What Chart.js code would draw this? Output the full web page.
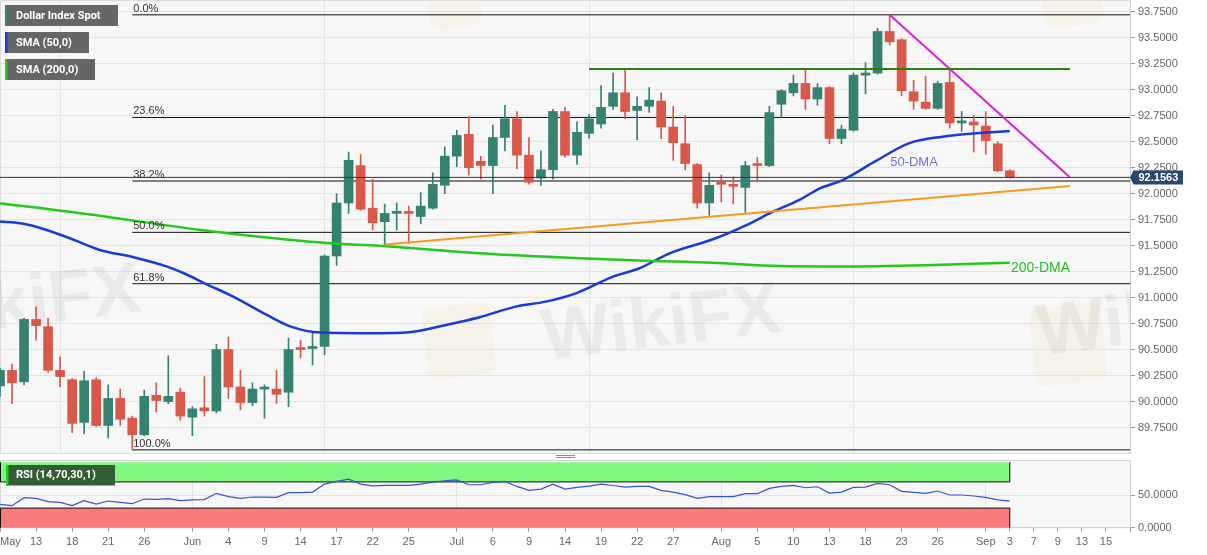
<!DOCTYPE html>
<html>
<head>
<meta charset="utf-8">
<title>Dollar Index Spot</title>
<style>
  html, body { margin:0; padding:0; background:#ffffff; overflow:hidden; }
  body { width:1207px; height:555px; position:relative; }
  #mainChart { position:absolute; left:0; top:0; }
  #rsiChart { position:absolute; left:0; top:460px; }
</style>
<script src="https://cdn.jsdelivr.net/npm/chart.js@4.4.1/dist/chart.umd.min.js"></script>
</head>
<body>
<canvas id="mainChart" width="1207" height="460"></canvas>
<canvas id="rsiChart" width="1207" height="95"></canvas>
<script>
// ---------- DATA ----------
const dates = [
 '2021-05-10','2021-05-11','2021-05-12','2021-05-13','2021-05-14','2021-05-17','2021-05-18','2021-05-19','2021-05-20','2021-05-21',
 '2021-05-24','2021-05-25','2021-05-26','2021-05-27','2021-05-28','2021-05-31','2021-06-01','2021-06-02','2021-06-03','2021-06-04',
 '2021-06-07','2021-06-08','2021-06-09','2021-06-10','2021-06-11','2021-06-14','2021-06-15','2021-06-16','2021-06-17','2021-06-18',
 '2021-06-21','2021-06-22','2021-06-23','2021-06-24','2021-06-25','2021-06-28','2021-06-29','2021-06-30','2021-07-01','2021-07-02',
 '2021-07-05','2021-07-06','2021-07-07','2021-07-08','2021-07-09','2021-07-12','2021-07-13','2021-07-14','2021-07-15','2021-07-16',
 '2021-07-19','2021-07-20','2021-07-21','2021-07-22','2021-07-23','2021-07-26','2021-07-27','2021-07-28','2021-07-29','2021-07-30',
 '2021-08-02','2021-08-03','2021-08-04','2021-08-05','2021-08-06','2021-08-09','2021-08-10','2021-08-11','2021-08-12','2021-08-13',
 '2021-08-16','2021-08-17','2021-08-18','2021-08-19','2021-08-20','2021-08-23','2021-08-24','2021-08-25','2021-08-26','2021-08-27',
 '2021-08-30','2021-08-31','2021-09-01','2021-09-02','2021-09-03'];

const openP = [
 90.15,90.30,90.19,90.79,90.72,90.30,90.21,89.80,90.21,89.77,
 90.03,89.84,89.68,90.06,90.00,90.09,89.85,89.94,89.91,90.50,
 90.14,89.99,90.12,90.12,90.09,90.51,90.51,90.53,91.40,91.91,
 92.27,91.86,91.73,91.81,91.82,91.78,91.86,92.08,92.36,92.57,
 92.31,92.27,92.54,92.72,92.37,92.15,92.23,92.79,92.37,92.58,
 92.67,92.84,92.97,92.80,92.84,92.89,92.64,92.48,92.28,91.91,
 92.11,92.08,92.06,92.28,92.27,92.86,92.97,93.06,92.91,93.02,
 92.53,92.61,93.14,93.16,93.56,93.48,92.98,92.88,92.82,93.07,
 92.68,92.69,92.65,92.48,92.22];
const highP = [
 90.32,90.36,90.80,90.91,90.80,90.43,90.22,90.29,90.23,90.16,
 90.12,89.86,90.11,90.18,90.44,90.13,89.95,90.24,90.55,90.62,
 90.30,90.18,90.16,90.30,90.61,90.59,90.67,91.41,92.00,92.40,
 92.38,92.14,91.90,91.91,91.88,92.01,92.20,92.45,92.61,92.74,
 92.36,92.66,92.85,92.79,92.54,92.41,92.81,92.83,92.69,92.76,
 93.04,93.16,93.19,92.93,93.02,92.97,92.84,92.75,92.29,92.20,
 92.18,92.16,92.31,92.35,92.84,93.00,93.14,93.19,93.06,93.03,
 92.66,93.16,93.26,93.59,93.72,93.49,93.09,93.13,93.08,93.19,
 92.79,92.75,92.79,92.50,92.23];
const lowP = [
 90.05,89.98,90.16,90.59,90.28,90.14,89.70,89.69,89.76,89.65,
 89.77,89.535,89.67,89.90,89.98,89.82,89.67,89.86,89.89,90.03,
 89.92,89.96,89.84,89.98,89.95,90.42,90.35,90.45,91.31,91.81,
 91.84,91.65,91.51,91.65,91.52,91.71,91.85,92.00,92.26,92.18,
 92.14,92.00,92.41,92.24,92.09,92.08,92.14,92.35,92.28,92.53,
 92.63,92.81,92.72,92.52,92.78,92.53,92.32,92.23,91.86,91.79,
 91.92,91.90,91.82,92.12,92.26,92.73,92.94,92.81,92.85,92.48,
 92.48,92.60,92.96,93.15,93.43,92.94,92.81,92.81,92.81,92.63,
 92.60,92.40,92.38,92.21,92.15];
const closeP = [
 90.30,90.18,90.79,90.73,90.30,90.24,89.79,90.20,89.77,90.03,
 89.83,89.68,90.05,90.01,90.05,89.86,89.93,89.91,90.50,90.14,
 89.99,90.12,90.13,90.07,90.50,90.50,90.52,91.40,91.91,92.32,
 91.85,91.72,91.81,91.82,91.81,91.88,92.09,92.36,92.56,92.25,
 92.27,92.54,92.72,92.37,92.11,92.23,92.79,92.37,92.59,92.72,
 92.83,92.97,92.79,92.84,92.90,92.64,92.49,92.29,91.91,92.08,
 92.09,92.07,92.27,92.27,92.78,92.99,93.06,92.91,93.02,92.53,
 92.62,93.14,93.16,93.56,93.46,92.99,92.89,92.82,93.06,92.68,
 92.70,92.66,92.51,92.22,92.1563];

const rsiVals = [
 35.7,33.7,45.9,44.9,39.8,38.8,33.7,41.3,36.2,40.8,
 38.8,36.7,43.9,43.4,44.4,41.3,42.4,42.9,52.6,47.4,
 44.9,46.9,46.9,46.4,53.6,53.6,54.5,66.7,70.7,74.2,
 66.7,64.1,64.6,64.6,64.6,66.7,69.7,71.5,73.2,65.7,
 65.7,69.2,70.7,63.1,57.1,59.1,66.7,59.1,61.6,63.5,
 66.7,64.5,62.1,63.1,63.1,57.1,54.5,50.5,44.9,47.5,
 47.5,47.5,52.0,52.0,60.1,63.1,64.6,61.1,62.6,53.0,
 54.5,61.6,62.1,67.7,65.7,55.6,54.0,52.5,56.1,50.0,
 50.0,48.5,46.5,42.5,40.5];

const sma50Idx  = [0,1.7,2.8,5.6,8.3,11.1,13.9,15.3,17.2,19.4,22.2,24.2,26.7,30,31.6,33.8,37.1,39.9,42.9,45.4,47.9,51.0,53.2,55.7,59.3,62.1,64.3,66.5,68.2,70.1,72.9,75.6,78.4,81.2,84];
const sma50Vals = [91.731,91.715,91.689,91.580,91.458,91.388,91.298,91.234,91.128,91.009,90.833,90.721,90.663,90.657,90.657,90.663,90.737,90.811,90.913,90.961,91.041,91.201,91.282,91.426,91.561,91.698,91.826,91.939,92.051,92.131,92.317,92.484,92.548,92.580,92.602];
const sma200Idx  = [0,2.8,8.3,11.1,16.7,22.2,27.4,31.6,33.3,39.9,48.2,53.7,59.3,64.8,70,77,84];
const sma200Vals = [91.907,91.868,91.788,91.740,91.650,91.577,91.522,91.499,91.484,91.426,91.378,91.355,91.336,91.304,91.300,91.312,91.336];

const supportLine = [[32, 91.51], [89, 92.074]];
const trendLine   = [[74, 93.72], [89, 92.157]];
const resistLine  = [[49, 93.199], [89, 93.199]];

const fibLevels = [0, 23.6, 38.2, 50, 61.8, 100];
const fibLabels = ['0.0%', '23.6%', '38.2%', '50.0%', '61.8%', '100.0%'];
const fibHigh = 93.72, fibLow = 89.535, fibStart = 11;
const lastPrice = 92.1563;

const priceTicks = [89.75,90.00,90.25,90.50,90.75,91.00,91.25,91.50,91.75,92.00,92.25,92.50,92.75,93.00,93.25,93.50,93.75];
const rsiTicks = [0, 50];
const xTickIdx    = [0,3,6,9,12,16,19,22,25,28,31,34,38,41,44,47,50,53,56,60,63,66,69,72,75,78,82,84,86,88,90,92];
const xTickLabels = ['May','13','18','21','26','Jun','4','9','14','17','22','25','Jul','6','9','14','19','22','27','Aug','5','10','13','18','23','26','Sep','3','7','9','13','15'];
const monthIdx = [16, 38, 60, 82];

// ---------- STYLE ----------
const X_MIN = 0, X_MAX = 94;
const Y_MIN = 89.505, Y_MAX = 93.853;
const UP = '#358270', DOWN = '#d9584a';
const AXIS_FONT = {family: '"Liberation Sans", Arial, sans-serif', size: 11};
const AXIS_W = 77;

const candleColor = dates.map((d, i) => closeP[i] >= openP[i] ? UP : DOWN);
const wickData = dates.map((d, i) => ({x: i, y: [lowP[i], highP[i]]}));
const bodyData = dates.map((d, i) => ({x: i, y: [Math.min(openP[i], closeP[i]), Math.max(openP[i], closeP[i])]}));
const toXY = (xs, ys) => xs.map((x, i) => ({x: x, y: ys[i]}));
const pairXY = arr => arr.map(p => ({x: p[0], y: p[1]}));
const fibPrice = l => fibHigh - (fibHigh - fibLow) * l / 100;

const monthGrid = ctx => (ctx.tick && monthIdx.includes(ctx.tick.value)) ? '#e3e3e3' : 'rgba(0,0,0,0)';

const fibDatasets = fibLevels.map(l => ({
  type: 'line', order: 20,
  data: [{x: fibStart, y: fibPrice(l)}, {x: X_MAX, y: fibPrice(l)}],
  borderColor: '#111111', borderWidth: 1, pointRadius: 0, fill: false
}));

function roundRect(ctx, x, y, w, h, r) {
  ctx.beginPath();
  ctx.moveTo(x + r, y); ctx.lineTo(x + w - r, y); ctx.quadraticCurveTo(x + w, y, x + w, y + r);
  ctx.lineTo(x + w, y + h - r); ctx.quadraticCurveTo(x + w, y + h, x + w - r, y + h);
  ctx.lineTo(x + r, y + h); ctx.quadraticCurveTo(x, y + h, x, y + h - r);
  ctx.lineTo(x, y + r); ctx.quadraticCurveTo(x, y, x + r, y); ctx.closePath();
}

// ---------- PLUGINS ----------
const mainPlugin = {
  id: 'mainOverlay',
  beforeDraw(chart) {
    const {ctx, chartArea: a} = chart;
    ctx.save();
    ctx.fillStyle = '#f7f7f7';
    ctx.fillRect(a.left, a.top, a.right - a.left, a.bottom - a.top);
    ctx.strokeStyle = '#dcdcdc';
    ctx.lineWidth = 1;
    ctx.strokeRect(a.left + 0.5, a.top - 0.5, a.right - a.left, a.bottom - a.top + 1);
    ctx.restore();
  },
  beforeDatasetsDraw(chart) {
    const {ctx, chartArea: a} = chart;
    ctx.save();
    ctx.beginPath(); ctx.rect(a.left, a.top, a.right - a.left, a.bottom - a.top); ctx.clip();
    ctx.fillStyle = 'rgba(235,205,130,0.10)';
    [[425, 305, 68, 72], [1032, 305, 72, 78], [428, -22, 52, 50], [1042, -22, 60, 48]].forEach(r => {
      ctx.save();
      ctx.translate(r[0] + r[2] / 2, r[1] + r[3] / 2); ctx.rotate(-0.12);
      roundRect(ctx, -r[2] / 2, -r[3] / 2, r[2], r[3], 10); ctx.fill();
      ctx.restore();
    });
    ctx.fillStyle = 'rgba(120,110,110,0.09)';
    ctx.font = 'bold 72px "Liberation Sans", Arial, sans-serif';
    const marks = [[-95, 340], [545, 360], [1040, 355]];
    marks.forEach(m => {
      ctx.save(); ctx.translate(m[0], m[1]); ctx.rotate(-0.12);
      ctx.fillText('WikiFX', 0, 0); ctx.restore();
    });
    ctx.restore();
  },
  afterDatasetsDraw(chart) {
    const {ctx} = chart;
    const xs = chart.scales.x, ys = chart.scales.y;
    ctx.save();
    ctx.font = '11px "Liberation Sans", Arial, sans-serif';
    ctx.fillStyle = '#333333';
    ctx.textAlign = 'left'; ctx.textBaseline = 'alphabetic';
    fibLevels.forEach((l, i) => {
      ctx.fillText(fibLabels[i], xs.getPixelForValue(fibStart) + 1, ys.getPixelForValue(fibPrice(l)) - 3);
    });
    ctx.textBaseline = 'middle';
    ctx.font = '13px "Liberation Sans", Arial, sans-serif';
    ctx.fillStyle = '#7070e6';
    ctx.fillText('50-DMA', xs.getPixelForValue(74.05), ys.getPixelForValue(92.304));
    ctx.font = '14px "Liberation Sans", Arial, sans-serif';
    ctx.fillStyle = '#24c024';
    ctx.fillText('200-DMA', xs.getPixelForValue(84.1), ys.getPixelForValue(91.285));
    ctx.restore();
  },
  afterDraw(chart) {
    const {ctx} = chart;
    const ys = chart.scales.y;
    const a = chart.chartArea;
    ctx.save();
    const y = ys.getPixelForValue(lastPrice);
    ctx.fillStyle = '#29486c';
    ctx.beginPath();
    ctx.moveTo(a.right, y); ctx.lineTo(a.right + 3.5, y - 7); ctx.lineTo(a.right + 53, y - 7);
    ctx.lineTo(a.right + 53, y + 7); ctx.lineTo(a.right + 3.5, y + 7); ctx.closePath(); ctx.fill();
    ctx.fillStyle = '#ffffff';
    ctx.font = 'bold 11px "Liberation Sans", Arial, sans-serif';
    ctx.textBaseline = 'middle'; ctx.textAlign = 'left';
    ctx.fillText(lastPrice.toFixed(4), a.right + 8.5, y + 0.5);
    const boxes = [
      {t: 'Dollar Index Spot', c: UP, y: 5, w: 113},
      {t: 'SMA (50,0)', c: '#1a3ad8', y: 32, w: 84},
      {t: 'SMA (200,0)', c: '#26c81e', y: 59, w: 90}
    ];
    ctx.font = 'bold 11px Roboto, "Liberation Sans", Arial, sans-serif';
    boxes.forEach(b => {
      ctx.fillStyle = '#666666';
      ctx.fillRect(5, b.y, b.w, 21);
      ctx.fillStyle = b.c;
      ctx.fillRect(5, b.y, 2.5, 21);
      ctx.fillStyle = '#ffffff';
      ctx.fillText(b.t, 16, b.y + 11);
    });
    ctx.strokeStyle = '#8a8a8a'; ctx.lineWidth = 1;
    ctx.beginPath();
    ctx.moveTo(556, 455.5); ctx.lineTo(575, 455.5);
    ctx.moveTo(556, 457.5); ctx.lineTo(575, 457.5);
    ctx.stroke();
    ctx.restore();
  }
};

const rsiPlugin = {
  id: 'rsiOverlay',
  beforeDraw(chart) {
    const {ctx, chartArea: a} = chart;
    ctx.save();
    ctx.fillStyle = '#f7f7f7';
    ctx.fillRect(a.left, 0.5, a.right - a.left, a.bottom - 0.5);
    ctx.strokeStyle = '#d6d6d6'; ctx.lineWidth = 1;
    ctx.strokeRect(a.left + 0.5, 0.5, a.right - a.left, a.bottom - 0.5);
    ctx.restore();
  },
  beforeDatasetsDraw(chart) {
    const {ctx} = chart;
    const xs = chart.scales.x, ys = chart.scales.y;
    const x0 = xs.getPixelForValue(0), x1 = xs.getPixelForValue(84);
    const y100 = ys.getPixelForValue(100), y70 = ys.getPixelForValue(70);
    const y30 = ys.getPixelForValue(30), y0 = ys.getPixelForValue(0);
    ctx.save();
    ctx.fillStyle = '#80f880';
    ctx.fillRect(x0, y100, x1 - x0, y70 - y100);
    ctx.fillStyle = '#f87a7a';
    ctx.fillRect(x0, y30, x1 - x0, y0 - y30);
    ctx.strokeStyle = '#111111'; ctx.lineWidth = 1;
    ctx.beginPath();
    ctx.moveTo(x0 + 0.5, y100); ctx.lineTo(x0 + 0.5, y70);
    ctx.lineTo(x1, y70); ctx.lineTo(x1, y100);
    ctx.moveTo(x0 + 0.5, y0); ctx.lineTo(x0 + 0.5, y30);
    ctx.lineTo(x1, y30); ctx.lineTo(x1, y0);
    ctx.stroke();
    ctx.restore();
  },
  afterDraw(chart) {
    const {ctx} = chart;
    ctx.save();
    ctx.fillStyle = '#355d35';
    ctx.fillRect(6, 5, 109, 20.5);
    ctx.fillStyle = '#22d022';
    ctx.fillRect(6, 5, 2.5, 20.5);
    ctx.fillStyle = '#ffffff';
    ctx.font = 'bold 11px Roboto, "Liberation Sans", Arial, sans-serif';
    ctx.textBaseline = 'middle'; ctx.textAlign = 'left';
    ctx.fillText('RSI (14,70,30,1)', 16, 15.5);
    ctx.restore();
  }
};

// ---------- MAIN CHART ----------
new Chart(document.getElementById('mainChart'), {
  type: 'bar',
  data: {
    datasets: [
      ...fibDatasets,
      {type: 'line', order: 4, data: [{x: X_MIN, y: lastPrice}, {x: X_MAX, y: lastPrice}],
       borderColor: '#1f3a5f', borderWidth: 1, pointRadius: 0},
      {type: 'bar', order: 9, data: wickData, backgroundColor: candleColor, barThickness: 1, grouped: false},
      {type: 'bar', order: 8, data: bodyData, backgroundColor: candleColor, barThickness: 9, grouped: false, minBarLength: 2},
      {type: 'line', order: 3, data: toXY(sma200Idx, sma200Vals), borderColor: '#26c81e', borderWidth: 2.5,
       pointRadius: 0, cubicInterpolationMode: 'monotone'},
      {type: 'line', order: 3, data: toXY(sma50Idx, sma50Vals), borderColor: '#1a3ad8', borderWidth: 2.5,
       pointRadius: 0, cubicInterpolationMode: 'monotone'},
      {type: 'line', order: 2, data: pairXY(supportLine), borderColor: '#f59c1e', borderWidth: 2, pointRadius: 0},
      {type: 'line', order: 2, data: pairXY(resistLine), borderColor: '#2e7f0a', borderWidth: 2, pointRadius: 0},
      {type: 'line', order: 2, data: pairXY(trendLine), borderColor: '#de1fde', borderWidth: 2, pointRadius: 0}
    ]
  },
  options: {
    responsive: false, animation: false, devicePixelRatio: 1,
    layout: {padding: {top: 1, bottom: 7, left: 0, right: 0}},
    plugins: {legend: {display: false}, tooltip: {enabled: false}},
    scales: {
      x: {
        type: 'linear', min: X_MIN, max: X_MAX, offset: false,
        afterBuildTicks: s => { s.ticks = monthIdx.map(v => ({value: v})); },
        afterFit: s => { s.height = 0; s.paddingLeft = 0; s.paddingRight = 0; },
        ticks: {display: false},
        grid: {color: monthGrid, drawTicks: false},
        border: {display: false}
      },
      y: {
        type: 'linear', position: 'right', min: Y_MIN, max: Y_MAX,
        afterBuildTicks: s => { s.ticks = priceTicks.map(v => ({value: v})); },
        afterFit: s => { s.width = AXIS_W; s.paddingTop = 0; s.paddingBottom = 0; },
        ticks: {callback: v => Number(v).toFixed(4), color: '#666666', font: AXIS_FONT, padding: 3},
        grid: {color: '#e4e4e4', tickLength: 5, tickColor: '#9a9a9a'},
        border: {display: true, color: '#cfcfcf'}
      }
    }
  },
  plugins: [mainPlugin]
});

// ---------- RSI CHART ----------
const xLabelMap = {};
xTickIdx.forEach((v, i) => { xLabelMap[v] = xTickLabels[i]; });

new Chart(document.getElementById('rsiChart'), {
  type: 'line',
  data: {
    datasets: [{
      data: rsiVals.map((v, i) => ({x: i, y: v})),
      borderColor: '#3552d8', borderWidth: 1.2, pointRadius: 0, tension: 0
    }]
  },
  options: {
    responsive: false, animation: false, devicePixelRatio: 1,
    layout: {padding: {top: 2.3, bottom: 0, left: 0, right: 0}},
    plugins: {legend: {display: false}, tooltip: {enabled: false}},
    scales: {
      x: {
        type: 'linear', min: X_MIN, max: X_MAX, offset: false,
        afterBuildTicks: s => { s.ticks = xTickIdx.concat([X_MAX]).map(v => ({value: v})); },
        afterFit: s => { s.height = 27.3; s.paddingLeft = 0; s.paddingRight = 0; },
        ticks: {callback: v => (xLabelMap[v] !== undefined ? xLabelMap[v] : ''), autoSkip: false, maxRotation: 0,
                align: 'inner', color: '#666666', font: AXIS_FONT, padding: 4},
        grid: {color: monthGrid, tickLength: 4, tickColor: '#9a9a9a'},
        border: {display: true, color: '#cfcfcf'}
      },
      y: {
        type: 'linear', position: 'right', min: 0, max: 100,
        afterBuildTicks: s => { s.ticks = rsiTicks.map(v => ({value: v})); },
        afterFit: s => { s.width = AXIS_W; s.paddingTop = 0; s.paddingBottom = 0; },
        ticks: {callback: v => Number(v).toFixed(4), color: '#666666', font: AXIS_FONT, padding: 3},
        grid: {color: '#e4e4e4', tickLength: 5, tickColor: '#9a9a9a'},
        border: {display: true, color: '#cfcfcf'}
      }
    }
  },
  plugins: [rsiPlugin]
});
</script>
</body>
</html>
